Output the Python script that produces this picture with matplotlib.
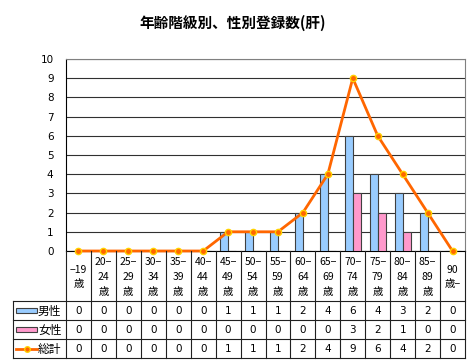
import matplotlib
matplotlib.use("Agg")
import matplotlib.pyplot as plt
from matplotlib.patches import Rectangle
from matplotlib.lines import Line2D

plt.rcParams['font.family'] = ['Noto Sans CJK JP', 'DejaVu Sans']

title = "年齢階級別、性別登録数(肝)"
categories = ["−19\n歳", "20−\n24\n歳", "25−\n29\n歳", "30−\n34\n歳", "35−\n39\n歳",
              "40−\n44\n歳", "45−\n49\n歳", "50−\n54\n歳", "55−\n59\n歳", "60−\n64\n歳",
              "65−\n69\n歳", "70−\n74\n歳", "75−\n79\n歳", "80−\n84\n歳", "85−\n89\n歳",
              "90\n歳−"]
male = [0, 0, 0, 0, 0, 0, 1, 1, 1, 2, 4, 6, 4, 3, 2, 0]
female = [0, 0, 0, 0, 0, 0, 0, 0, 0, 0, 0, 3, 2, 1, 0, 0]
total = [0, 0, 0, 0, 0, 0, 1, 1, 1, 2, 4, 9, 6, 4, 2, 0]
series_names = ["男性", "女性", "総計"]
yticks = list(range(0, 11))

W, H = 470, 361
fig = plt.figure(figsize=(W / 100, H / 100), dpi=100)

# pixel geometry
x_left, x_right = 66, 465
y_top, y_zero = 59, 251
tab_left = 13
row_lines = [301, 320, 339, 358]

def fx(px):
    return px / W

def fy(py):
    return 1 - py / H

n = len(categories)
ax = fig.add_axes([fx(x_left), fy(y_zero), (x_right - x_left) / W, (y_zero - y_top) / H])
ax.set_xlim(-0.5, n - 0.5)
ax.set_ylim(0, 10)

blue = '#99CCFF'
pink = '#FF99CC'
orange = '#FF6600'
edge = '#404040'

xs = list(range(n))
bw = 0.32
ax.bar([x - bw / 2 for x in xs], male, width=bw, color=blue, edgecolor=edge, linewidth=0.8, zorder=3)
ax.bar([x + bw / 2 for x in xs], female, width=bw, color=pink, edgecolor=edge, linewidth=0.8, zorder=3)
ax.plot(xs, total, color=orange, lw=2, marker='o', ms=4.5, mfc=orange, mec='#FFD200', mew=1,
        zorder=4, clip_on=False)

ax.set_yticks(yticks)
ax.set_yticklabels([str(v) for v in yticks], fontsize=7.5, family='DejaVu Sans')
ax.tick_params(axis='y', length=0, pad=9)
ax.set_xticks([])
ax.yaxis.grid(True, color='#303030', lw=0.8)
ax.set_axisbelow(True)
for s in ['left', 'bottom']:
    ax.spines[s].set_color('black')
    ax.spines[s].set_linewidth(0.8)
for s in ['top', 'right']:
    ax.spines[s].set_color('#808080')
    ax.spines[s].set_linewidth(0.8)

fig.text(fx(233), fy(23), title, ha='center', va='center', fontsize=10.5, fontweight='bold')

# table axes
unit = (x_right - x_left) / n
tx0 = -0.5 - (x_left - tab_left) / unit
tax = fig.add_axes([fx(tab_left), fy(row_lines[-1]), (x_right - tab_left) / W, (row_lines[-1] - y_zero) / H])
tax.set_xlim(tx0, n - 0.5)
tax.set_ylim(row_lines[-1], y_zero)
tax.axis('off')

lc = '#202020'
lw = 0.8
# horizontal lines
for r in row_lines:
    tax.plot([tx0, n - 0.5], [r, r], color=lc, lw=lw, clip_on=False)
# vertical lines
tax.plot([tx0, tx0], [row_lines[0], row_lines[-1]], color=lc, lw=lw, clip_on=False)
for i in range(n + 1):
    tax.plot([i - 0.5, i - 0.5], [y_zero, row_lines[-1]], color=lc, lw=lw, clip_on=False)

# header labels
for i, c in enumerate(categories):
    tax.text(i, (y_zero + row_lines[0]) / 2 + 1, c, ha='center', va='center', fontsize=7.5,
             linespacing=1.6)

# rows
data_rows = [male, female, total]
for k, (name, vals) in enumerate(zip(series_names, data_rows)):
    yc = (row_lines[k] + row_lines[k + 1]) / 2
    for i, v in enumerate(vals):
        tax.text(i, yc + 0.5, str(v), ha='center', va='center', fontsize=7.5, family='DejaVu Sans')
    # legend key
    kx0 = tx0 + 3 / unit
    kx1 = tx0 + 24 / unit
    if k < 2:
        col = blue if k == 0 else pink
        tax.add_patch(Rectangle((kx0, yc - 2.5), kx1 - kx0, 5, facecolor=col, edgecolor=edge,
                                lw=0.8, clip_on=False))
    else:
        tax.add_line(Line2D([kx0, kx1], [yc, yc], color=orange, lw=2, clip_on=False))
        tax.plot([(kx0 + kx1) / 2], [yc], marker='o', ms=4, mfc=orange, mec='#FFD200', mew=1,
                 clip_on=False)
    tax.text(tx0 + 25 / unit, yc + 0.5, name, ha='left', va='center', fontsize=8.5)

fig.savefig('out.png', dpi=100)
